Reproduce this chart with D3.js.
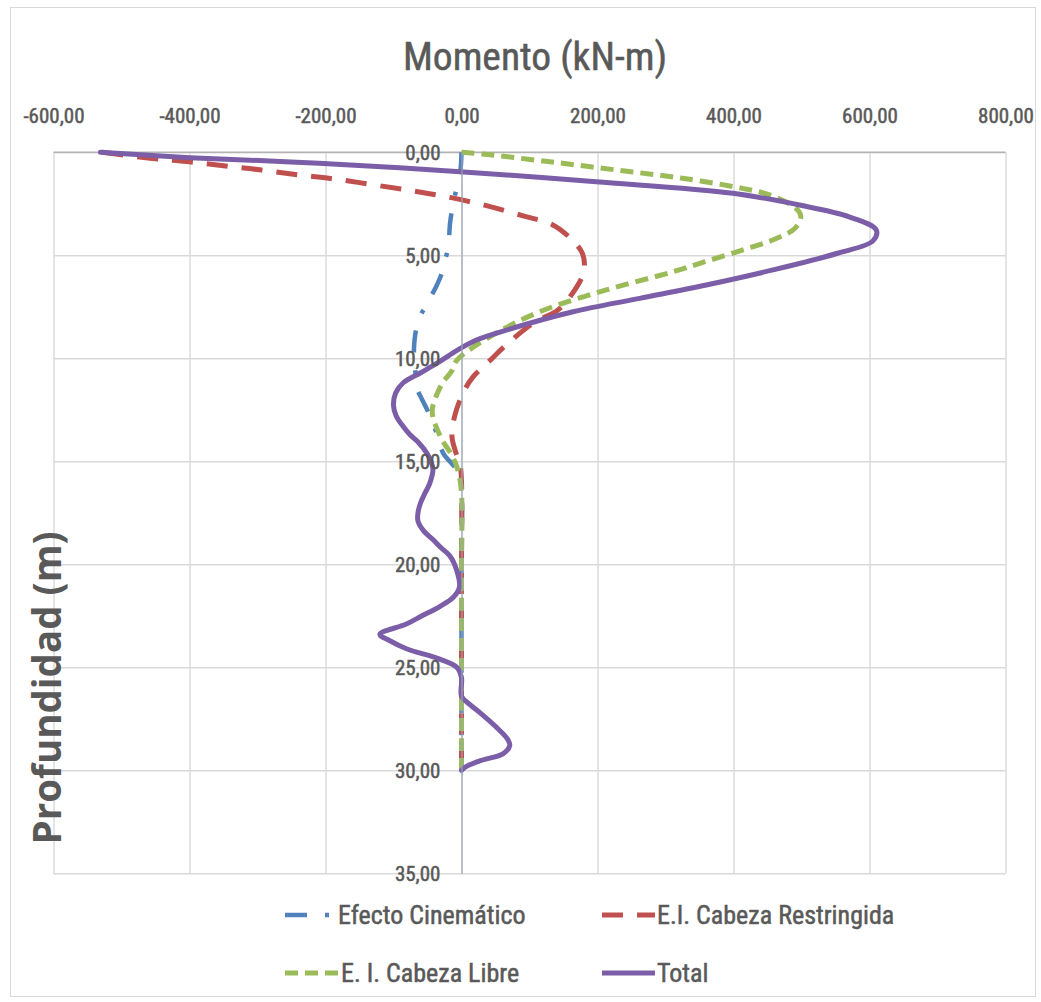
<!DOCTYPE html>
<html>
<head>
<meta charset="utf-8">
<script src="https://cdn.jsdelivr.net/npm/d3@7"></script>
<style>
  html, body { margin: 0; padding: 0; background: #ffffff; }
  svg { display: block; }
</style>
</head>
<body>
<svg id="chart" width="1041" height="1002"></svg>
<script>
// ---- data -------------------------------------------------------------
const xTicks = [-600, -400, -200, 0, 200, 400, 600, 800];
const yTicks = [0, 5, 10, 15, 20, 25, 30, 35];
const seriesNames = ["Efecto Cinemático", "E.I. Cabeza Restringida", "E. I. Cabeza Libre", "Total"];

// Efecto Cinemático: depth (m) / moment (kN-m)
const depthCinematico  = [0, 1.0, 2.0, 3.0, 3.5, 4.0, 4.6, 5.2, 5.87, 6.5, 7.0, 7.5, 7.9, 8.5, 9.1, 10.0, 10.6, 11.4, 12.0, 12.6, 13.5, 14.6, 15.2, 15.6, 16.2, 20.0, 25.0, 30.0];
const momentCinematico = [0, -2, -9, -15, -17, -18, -19, -24, -29, -37, -45, -53, -60, -66, -69, -70, -68, -66, -58, -49, -38, -27, -12, -3, 0, 0, 0, 0];

// E.I. Cabeza Restringida
const depthRestringida  = [0, 0.29, 0.45, 0.65, 0.86, 1.1, 1.31, 1.59, 1.88, 2.19, 2.6, 3.1, 3.5, 4.1, 4.85, 5.5, 6.0, 6.9, 7.65, 8.3, 9.4, 10.1, 10.9, 11.7, 12.8, 13.8, 14.5, 15.2, 16.0, 20.0, 25.0, 30.0];
const momentRestringida = [-528, -458, -404, -350, -294, -238, -184, -127, -71, -17, 38, 92, 133, 158, 177, 181, 178, 162, 142, 105, 64, 42, 17, 2, -10, -14, -9, -2, 0, 0, 0, 0];

// E. I. Cabeza Libre
const depthLibre  = [0, 0.1, 0.46, 0.86, 1.26, 1.75, 2.07, 2.72, 3.13, 3.7, 4.2, 4.74, 5.31, 5.8, 6.68, 7.74, 8.95, 10.1, 10.6, 11.2, 11.9, 12.5, 13.0, 13.5, 14.0, 14.5, 15.0, 15.6, 16.5, 20.0, 25.0, 30.0];
const momentLibre = [0, 35, 130, 228, 325, 413, 453, 492, 499, 490, 462, 414, 358, 311, 213, 115, 42, -7, -14, -28, -38, -43, -41, -35, -28, -18, -10, -4, 0, 0, 0, 0];

// Total
const depthTotal  = [0, 0.26, 0.53, 0.94, 1.43, 1.99, 2.56, 3.13, 3.77, 4.3, 4.9, 5.71, 6.44, 7.09, 7.74, 8.63, 9.11, 9.6, 10.2, 10.7, 11.2, 11.7, 12.3, 12.8, 13.3, 13.7, 14.1, 14.6, 15.0, 15.4, 16.1, 16.5, 17.0, 17.5, 17.9, 18.4, 18.8, 19.2, 19.6, 20.3, 21.1, 21.6, 22.05, 22.5, 22.9, 23.4, 23.7, 24.1, 24.6, 25.0, 25.5, 26.4, 26.8, 27.2, 27.9, 28.5, 28.8, 29.2, 29.5, 29.8, 30.0];
const momentTotal = [-531, -399, -210, -2, 198, 399, 497, 570, 610, 605, 553, 458, 360, 262, 164, 66, 22, -6, -34, -60, -86, -97, -100, -96, -86, -76, -63, -51, -45, -42, -47, -53, -60, -64, -64, -55, -42, -30, -17, -7, -3, -12, -32, -58, -81, -120, -106, -81, -32, -7, 0, 0, 12, 27, 51, 68, 71, 61, 31, 8, 0];

// ---- layout -----------------------------------------------------------
const svg = d3.select("#chart");
const plot = { left: 53.5, right: 1005.5, top: 152.3, bottom: 873.3 };
const textColor = "#595959";
const narrowFont = "'Liberation Sans Narrow', 'Arial Narrow', 'Roboto Condensed', 'Open Sans', sans-serif";

const x = d3.scaleLinear().domain([-600, 800]).range([plot.left, plot.right]);
const y = d3.scaleLinear().domain([0, 35]).range([plot.top, plot.bottom]);

const locale = d3.formatLocale({ decimal: ",", thousands: ".", grouping: [3], currency: ["", ""], minus: "-" });
const fmt = locale.format(".2f");

// slightly heavier text strokes
function labelStyle(sel, size) {
  sel.attr("fill", textColor)
    .attr("stroke", textColor)
    .attr("stroke-width", 0.5)
    .style("font-family", narrowFont)
    .style("font-size", size + "px");
}

// chart frame
svg.append("rect")
  .attr("x", 10.5).attr("y", 7.5)
  .attr("width", 1025).attr("height", 989)
  .attr("fill", "#ffffff")
  .attr("stroke", "#d9d9d9").attr("stroke-width", 1);

// vertical gridlines
svg.append("g")
  .attr("transform", `translate(0,${plot.top})`)
  .call(d3.axisBottom(x).tickValues(xTicks).tickSize(plot.bottom - plot.top).tickFormat(""))
  .call(g => g.select(".domain").remove())
  .call(g => g.selectAll(".tick line").attr("stroke", "#d9d9d9").attr("stroke-width", 1.4));

// horizontal gridlines
svg.append("g")
  .attr("transform", `translate(${plot.left},0)`)
  .call(d3.axisRight(y).tickValues(yTicks).tickSize(plot.right - plot.left).tickFormat(""))
  .call(g => g.select(".domain").remove())
  .call(g => g.selectAll(".tick line").attr("stroke", "#d9d9d9").attr("stroke-width", 1.4));

// top axis line
svg.append("line")
  .attr("x1", plot.left).attr("x2", plot.right)
  .attr("y1", y(0)).attr("y2", y(0))
  .attr("stroke", "#b3b3b3").attr("stroke-width", 1.4);

// top x axis labels
svg.append("g")
  .attr("transform", `translate(0,123)`)
  .call(d3.axisTop(x).tickValues(xTicks).tickSize(0).tickPadding(0).tickFormat(fmt))
  .call(g => g.select(".domain").remove())
  .call(g => g.selectAll("text").call(labelStyle, 21));

// series
const series = [
  { name: seriesNames[0], depth: depthCinematico,  moment: momentCinematico,  color: "#4f81bd", dash: "22,18,4,18", width: 4.5 },
  { name: seriesNames[1], depth: depthRestringida, moment: momentRestringida, color: "#c0504d", dash: "21,14",      width: 5 },
  { name: seriesNames[2], depth: depthLibre,       moment: momentLibre,       color: "#9bbb59", dash: "13,7",       width: 5 },
  { name: seriesNames[3], depth: depthTotal,       moment: momentTotal,       color: "#7b5ea7", dash: null,         width: 5 }
];

const line = d3.line()
  .x(d => x(d[1]))
  .y(d => y(d[0]))
  .curve(d3.curveCatmullRom.alpha(0.5));

const lines = svg.append("g");
series.forEach(s => {
  const pts = d3.zip(s.depth, s.moment);
  lines.append("path")
    .datum(pts)
    .attr("d", line)
    .attr("fill", "none")
    .attr("stroke", s.color)
    .attr("stroke-width", s.width)
    .attr("stroke-linejoin", "round")
    .attr("stroke-linecap", s.dash ? "butt" : "round")
    .attr("stroke-dasharray", s.dash);
});

// vertical axis at zero moment with depth labels
svg.append("g")
  .attr("transform", `translate(${x(0)},0)`)
  .call(d3.axisLeft(y).tickValues(yTicks).tickSize(0).tickSizeOuter(0).tickPadding(21).tickFormat(fmt))
  .call(g => g.select(".domain").attr("stroke", "#9aa6b8").attr("stroke-width", 1.2))
  .call(g => g.selectAll("text").call(labelStyle, 21));

// titles
svg.append("text")
  .attr("x", 535).attr("y", 70)
  .attr("text-anchor", "middle")
  .call(labelStyle, 39.5)
  .text("Momento (kN-m)");

svg.append("text")
  .attr("transform", `translate(61,688) rotate(-90)`)
  .attr("text-anchor", "middle")
  .attr("fill", textColor)
  .style("font-family", "'Open Sans', 'Noto Sans', sans-serif")
  .style("font-weight", "bold")
  .style("font-size", "38.5px")
  .text("Profundidad (m)");

// legend
const legendPos = [
  { x: 285, y: 915, tx: 338 },
  { x: 602, y: 915, tx: 657 },
  { x: 285, y: 973, tx: 341 },
  { x: 602, y: 973, tx: 657 }
];
const legend = svg.append("g");
series.forEach((s, i) => {
  const p = legendPos[i];
  const g = legend.append("g").attr("transform", `translate(${p.x},${p.y})`);
  g.append("line")
    .attr("x1", 0).attr("x2", 53).attr("y1", 0).attr("y2", 0)
    .attr("stroke", s.color)
    .attr("stroke-width", s.width)
    .attr("stroke-dasharray", s.dash);
  g.append("text")
    .attr("x", p.tx - p.x).attr("y", 0).attr("dy", "0.35em")
    .call(labelStyle, 26)
    .text(s.name);
});
</script>
</body>
</html>
